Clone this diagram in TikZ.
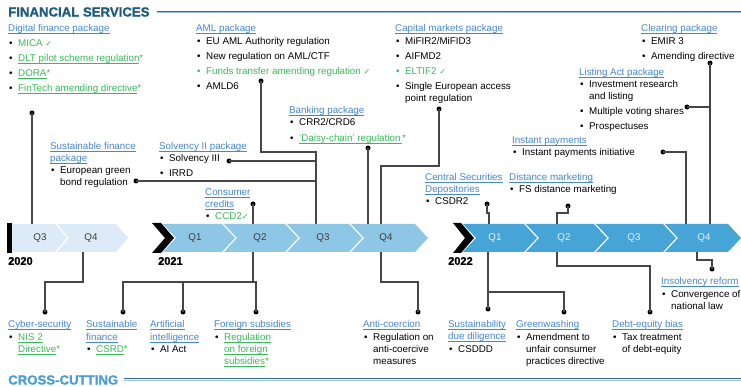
\documentclass[tikz,border=0pt]{standalone}
\usepackage{fontspec}
\setmainfont{Liberation Sans}
\newfontfamily\fsdejavu{DejaVu Sans}
\newfontfamily\fshdrfont[FakeBold=1.2]{Liberation Sans Bold}
\definecolor{hdrdark}{RGB}{31,92,128}
\definecolor{hdrlight}{RGB}{74,158,214}
\definecolor{hdrline}{RGB}{47,107,148}
\definecolor{hdrline2}{RGB}{160,196,220}
\definecolor{lkblue}{RGB}{70,134,208}
\definecolor{fsgreen}{RGB}{58,186,88}
\definecolor{bar20}{RGB}{220,235,247}
\definecolor{bar21}{RGB}{142,199,230}
\definecolor{bar22}{RGB}{70,164,214}
\definecolor{qdark}{RGB}{60,60,60}
\definecolor{qlight}{RGB}{232,242,250}
\definecolor{connc}{RGB}{70,70,70}
\newsavebox\fsulbox
\newcommand{\fsul}[1]{\sbox\fsulbox{#1}\rlap{\rule[-1.6pt]{\wd\fsulbox}{0.5pt}}\usebox\fsulbox}
\newcommand{\fslink}[1]{\textcolor{lkblue}{\fsul{#1}}}
\newcommand{\fsgr}[1]{\textcolor{fsgreen}{#1}}
\newcommand{\fsgu}[1]{\textcolor{fsgreen}{\fsul{#1}}}
\newcommand{\fsck}{{\fsdejavu\fontsize{8}{10}\selectfont ✓}}
\newcommand{\fsbul}{\hspace*{1pt}\makebox[9pt][l]{\textbullet}}
\newcommand{\fsind}{\hspace*{10pt}}
\begin{document}
\begin{tikzpicture}[x=1pt,y=-1pt,
  txt/.style={anchor=north west,inner sep=0pt,align=left,font=\fontsize{9.8}{12}\selectfont},
  qlab/.style={font=\fontsize{9.8}{12}\selectfont,text=qdark,inner sep=0pt},
  qlabw/.style={qlab,text=qlight},
  yr/.style={anchor=west,inner sep=0pt,font=\fontsize{11}{13}\selectfont\fshdrfont},
  dot/.style={circle,fill=black,inner sep=0pt,minimum size=5pt},
  conn/.style={draw=connc,line width=1.3pt},
  hdr/.style={anchor=west,inner sep=0pt,font=\fontsize{13.2}{15}\selectfont\fshdrfont}]
\useasboundingbox (0,0) rectangle (741,387);
\fill[white] (0,0) rectangle (741,387);

% headers
\node[hdr,text=hdrdark] (fshdr) at (8,12) {FINANCIAL SERVICES};
\draw[hdrline,line width=1.2pt] (157,11.6) -- (741,11.6);
\draw[hdrline2,line width=0.8pt] (157,12.9) -- (741,12.9);
\node[hdr,text=hdrlight] (cchdr) at (8,380) {CROSS-CUTTING};
\draw[hdrline,line width=1.2pt] (124,378.6) -- (741,378.6);
\draw[hdrline2,line width=0.8pt] (124,379.9) -- (741,379.9);

% top text blocks
\node[txt] (digi) at (8,23) {\strut\fslink{Digital finance package}\\[3pt]
\fsbul\fsgr{MICA \fsck}\\[3pt]
\fsbul\fsgu{DLT pilot scheme regulation}\fsgr{*}\\[3pt]
\fsbul\fsgu{DORA}\fsgr{*}\\[3pt]
\fsbul\fsgu{FinTech amending directive}\fsgr{*}};

\node[txt] (aml) at (196,23) {\strut\fslink{AML package}\\[1pt]
\fsbul EU AML Authority regulation\\[3pt]
\fsbul New regulation on AML/CTF\\[3pt]
\textcolor{fsgreen}{\fsbul Funds transfer amending regulation \fsck}\\[3pt]
\fsbul AMLD6};

\node[txt] (capm) at (395,23) {\strut\fslink{Capital markets package}\\[1pt]
\fsbul MiFIR2/MiFID3\\[3pt]
\fsbul AIFMD2\\[3pt]
\textcolor{fsgreen}{\fsbul ELTIF2 \fsck}\\[3pt]
\fsbul Single European access\\
\fsind point regulation};

\node[txt] (clear) at (641,23) {\strut\fslink{Clearing package}\\[1pt]
\fsbul EMIR 3\\[3pt]
\fsbul Amending directive};

\node[txt] (listing) at (579,67) {\strut\fslink{Listing Act package}\\
\fsbul Investment research\\
\fsind and listing\\[3pt]
\fsbul Multiple voting shares\\[3pt]
\fsbul Prospectuses};

\node[txt] (bank) at (289,105) {\strut\fslink{Banking package}\\
\fsbul CRR2/CRD6\\[4pt]
\fsbul\fsgu{‘Daisy-chain’ regulation\,}\fsgr{*}};

\node[txt] (instant) at (512,135) {\strut\fslink{Instant payments}\\
\fsbul Instant payments initiative};

\node[txt] (sustfin) at (50,141) {\strut\fslink{Sustainable finance}\\
\fslink{package}\\
\fsbul European green\\
\fsind bond regulation};

\node[txt] (solv) at (159,141) {\strut\fslink{Solvency II package}\\
\fsbul Solvency III\\[3pt]
\fsbul IRRD};

\node[txt] (cons) at (205,187) {\strut\fslink{Consumer}\\
\fslink{credits}\\
\fsbul\fsgr{CCD2\fsck}};

\node[txt] (csd) at (425,172) {\strut\fslink{Central Securities}\\
\fslink{Depositories}\\
\fsbul CSDR2};

\node[txt] (dist) at (509,172) {\strut\fslink{Distance marketing}\\
\fsbul FS distance marketing};

% bottom text blocks
\node[txt] (cyber) at (8,319) {\strut\fslink{Cyber-security}\\[1pt]
\fsbul\fsgu{NIS 2}\\
\fsind\fsgu{Directive}\fsgr{*}};

\node[txt] (sustfin2) at (86,319) {\strut\fslink{Sustainable}\\[1pt]
\fslink{finance}\\
\fsbul\fsgu{CSRD}\fsgr{*}};

\node[txt] (ai) at (150,319) {\strut\fslink{Artificial}\\[1pt]
\fslink{intelligence}\\
\fsbul AI Act};

\node[txt] (foreign) at (214,319) {\strut\fslink{Foreign subsidies}\\[1pt]
\fsbul\fsgu{Regulation}\\
\fsind\fsgu{on foreign}\\
\fsind\fsgu{subsidies}\fsgr{*}};

\node[txt] (anti) at (363,319) {\strut\fslink{Anti-coercion}\\[1pt]
\fsbul Regulation on\\
\fsind anti-coercive\\
\fsind measures};

\node[txt] (sustdd) at (448,319) {\strut\fslink{Sustainability}\\
\fslink{due diligence}\\[1pt]
\fsbul CSDDD};

\node[txt] (greenw) at (516,319) {\strut\fslink{Greenwashing}\\[1pt]
\fsbul Amendment to\\
\fsind unfair consumer\\
\fsind practices directive};

\node[txt] (debt) at (612,319) {\strut\fslink{Debt-equity bias}\\[1pt]
\fsbul Tax treatment\\
\fsind of debt-equity};

\node[txt] (insolv) at (661,276) {\strut\fslink{Insolvency reform}\\[1pt]
\fsbul Convergence of\\
\fsind national law};

% dots
\node[dot] (d1) at (32,113) {};
\node[dot] (d2) at (136,181) {};
\node[dot] (d3) at (229,161) {};
\node[dot] (d4) at (261,81) {};
\node[dot] (d5) at (253,204) {};
\node[dot] (d6) at (368,148) {};
\node[dot] (d7) at (439,109) {};
\node[dot] (d8) at (487,204) {};
\node[dot] (d9) at (568,206) {};
\node[dot] (d10) at (663,152) {};
\node[dot] (d11) at (687,107) {};
\node[dot] (d12) at (710,63) {};
\node[dot] (e1) at (45,312) {};
\node[dot] (e2) at (123,312) {};
\node[dot] (e3) at (183,312) {};
\node[dot] (e4) at (256,312) {};
\node[dot] (e5) at (418,312) {};
\node[dot] (e6) at (488,309) {};
\node[dot] (e7) at (564,312) {};
\node[dot] (e8) at (650,312) {};
\node[dot] (e9) at (712,269) {};

% attach points on the bar
\coordinate (t20q3) at (32,224);
\coordinate (t21q2) at (253,224);
\coordinate (t21q3) at (316,224);
\coordinate (t21q4a) at (368,224);
\coordinate (t21q4b) at (381,224);
\coordinate (t22q1) at (489,224);
\coordinate (t22q2) at (557,224);
\coordinate (t22q4a) at (686,224);
\coordinate (t22q4b) at (710,224);
\coordinate (b20q4) at (83,252);
\coordinate (b21q2) at (253,252);
\coordinate (b21q4) at (381,252);
\coordinate (b22q1) at (488,252);
\coordinate (b22q2) at (557,252);
\coordinate (b22q4) at (697,252);
\coordinate (j1) at (316,152);
\coordinate (j2) at (316,161);
\coordinate (j3) at (316,181);
\coordinate (j4) at (710,107);
\coordinate (j5) at (253,282);
\coordinate (j6) at (183,282);
\coordinate (j7) at (488,292);

% connectors above
\draw[conn] (d1.center) -- (t20q3);
\draw[conn] (d2.center) -- (j3);
\draw[conn] (d3.center) -- (j2);
\draw[conn] (d4.center) |- (j1) -- (t21q3);
\draw[conn] (d5.center) -- (t21q2);
\draw[conn] (d6.center) -- (t21q4a);
\draw[conn] (d7.center) -- (439,166) -| (t21q4b);
\draw[conn] (d8.center) -- (487,213) -| (t22q1);
\draw[conn] (d9.center) -- (568,213) -| (t22q2);
\draw[conn] (d10.center) -| (t22q4a);
\draw[conn] (d11.center) -- (j4);
\draw[conn] (d12.center) -- (t22q4b);

% connectors below
\draw[conn] (b20q4) -- (83,282) -| (e1.center);
\draw[conn] (b21q2) -- (j5);
\draw[conn] (e2.center) |- (256,282) -- (e4.center);
\draw[conn] (j6) -- (e3.center);
\draw[conn] (b21q4) -- (381,282) -| (e5.center);
\draw[conn] (b22q1) -- (e6.center);
\draw[conn] (j7) -| (e7.center);
\draw[conn] (b22q2) -- (557,266) -| (e8.center);
\draw[conn] (b22q4) -- (697,260) -| (e9.center);

% timeline 2020
\fill[black] (7,223) rectangle (12,253);
\fill[bar20] (12,224) -- (55,224) -- (67,238) -- (55,252) -- (12,252) -- cycle;
\fill[bar20] (57,224) -- (116,224) -- (128,238) -- (116,252) -- (57,252) -- (69,238) -- cycle;
\node[qlab] (q203) at (40,238) {Q3};
\node[qlab] (q204) at (91,238) {Q4};
\node[yr] (y20) at (8,261) {2020};

% timeline 2021
\fill[black] (152,223) -- (161,223) -- (174,238) -- (161,253) -- (152,253) -- (165,238) -- cycle;
\fill[bar21] (163,224) -- (222,224) -- (235,238) -- (222,252) -- (163,252) -- (176,238) -- cycle;
\fill[bar21] (224,224) -- (285,224) -- (298,238) -- (285,252) -- (224,252) -- (237,238) -- cycle;
\fill[bar21] (287,224) -- (349,224) -- (362,238) -- (349,252) -- (287,252) -- (300,238) -- cycle;
\fill[bar21] (351,224) -- (415,224) -- (428,238) -- (415,252) -- (351,252) -- (364,238) -- cycle;
\node[qlab] (q211) at (195,238) {Q1};
\node[qlab] (q212) at (260,238) {Q2};
\node[qlab] (q213) at (323,238) {Q3};
\node[qlab] (q214) at (386,238) {Q4};
\node[yr] (y21) at (158,261) {2021};

% timeline 2022
\fill[black] (453,223) -- (461,223) -- (474,238) -- (461,253) -- (453,253) -- (465,238) -- cycle;
\fill[bar22] (463,224) -- (524,224) -- (537,238) -- (524,252) -- (463,252) -- (476,238) -- cycle;
\fill[bar22] (526,224) -- (594,224) -- (607,238) -- (594,252) -- (526,252) -- (539,238) -- cycle;
\fill[bar22] (596,224) -- (663,224) -- (676,238) -- (663,252) -- (596,252) -- (609,238) -- cycle;
\fill[bar22] (665,224) -- (728,224) -- (741,238) -- (728,252) -- (665,252) -- (678,238) -- cycle;
\node[qlabw] (q221) at (495,238) {Q1};
\node[qlabw] (q222) at (564,238) {Q2};
\node[qlabw] (q223) at (634,238) {Q3};
\node[qlabw] (q224) at (704,238) {Q4};
\node[yr] (y22) at (448,261) {2022};
\end{tikzpicture}
\end{document}
